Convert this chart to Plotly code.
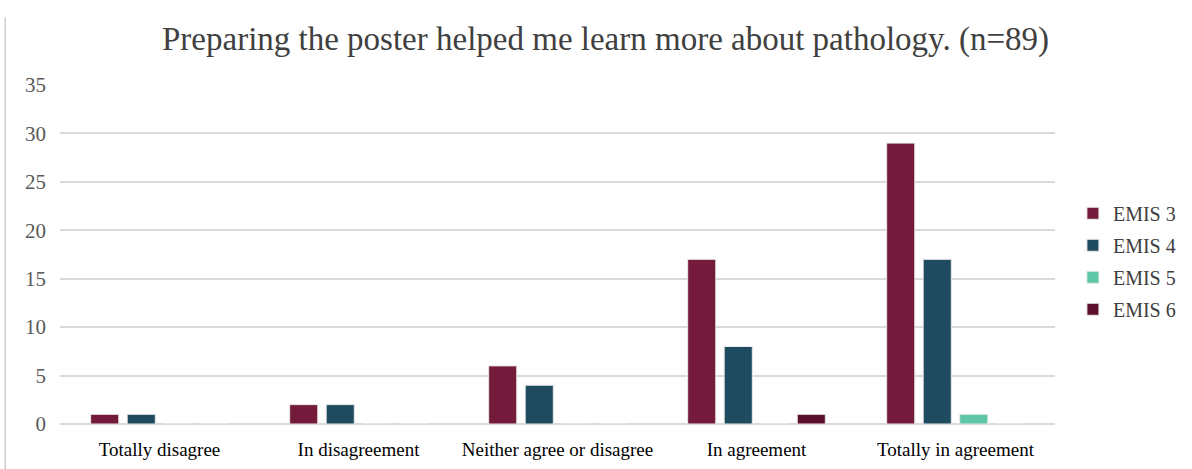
import plotly.graph_objects as go

categories = ["Totally disagree", "In disagreement", "Neither agree or disagree",
              "In agreement", "Totally in agreement"]
series_names = ["EMIS 3", "EMIS 4", "EMIS 5", "EMIS 6"]
emis3 = [1, 2, 6, 17, 29]
emis4 = [1, 2, 4, 8, 17]
emis5 = [0, 0, 0, 0, 1]
emis6 = [0, 0, 0, 1, 0]
colors = ["#741B3C", "#1F4B61", "#5CC6A6", "#5B0F2D"]
title_text = "Preparing the poster helped me learn more about pathology. (n=89)"

fig = go.Figure()
for i, (name, vals) in enumerate(zip(series_names, [emis3, emis4, emis5, emis6])):
    fig.add_trace(go.Bar(
        x=categories, y=vals, name=name, legendgroup=name,
        marker=dict(color=colors[i], line=dict(color="#e8e8e8", width=1)),
    ))

serif = "Liberation Serif, Times New Roman, serif"
fig.update_layout(
    width=1192, height=469,
    paper_bgcolor="white", plot_bgcolor="white",
    margin=dict(l=60, r=136, t=85, b=45),
    barmode="group", bargap=0.266, bargroupgap=0.23,
    title=dict(text=title_text, x=0.508, xanchor="center", y=0.917, yanchor="middle",
               font=dict(family=serif, size=33, color="#404040")),
    legend=dict(x=1.017, xanchor="left", y=0.48, yanchor="middle",
                font=dict(family=serif, size=20, color="#404040"),
                traceorder="grouped", tracegroupgap=3, itemwidth=30),
    showlegend=True,
)
fig.update_xaxes(showgrid=False, showline=False, ticks="", automargin=False,
                 ticklabelstandoff=12,
                 tickfont=dict(family=serif, size=19, color="#000000"))
fig.update_yaxes(range=[0, 35], dtick=5, showgrid=True, gridcolor="#d9d9d9", gridwidth=1.5,
                 zeroline=True, zerolinecolor="#d9d9d9", zerolinewidth=1.5, showline=False,
                 ticks="", ticklabelstandoff=13, automargin=False,
                 tickfont=dict(family=serif, size=21, color="#595959"))
fig.add_shape(type="line", xref="paper", yref="paper", x0=-0.055, x1=-0.055, y0=-0.14, y1=1.2,
              line=dict(color="#cfcfcf", width=1.5))
fig.write_html("out.html", config={"displayModeBar": False},
               post_script="document.body.style.margin='0';")
